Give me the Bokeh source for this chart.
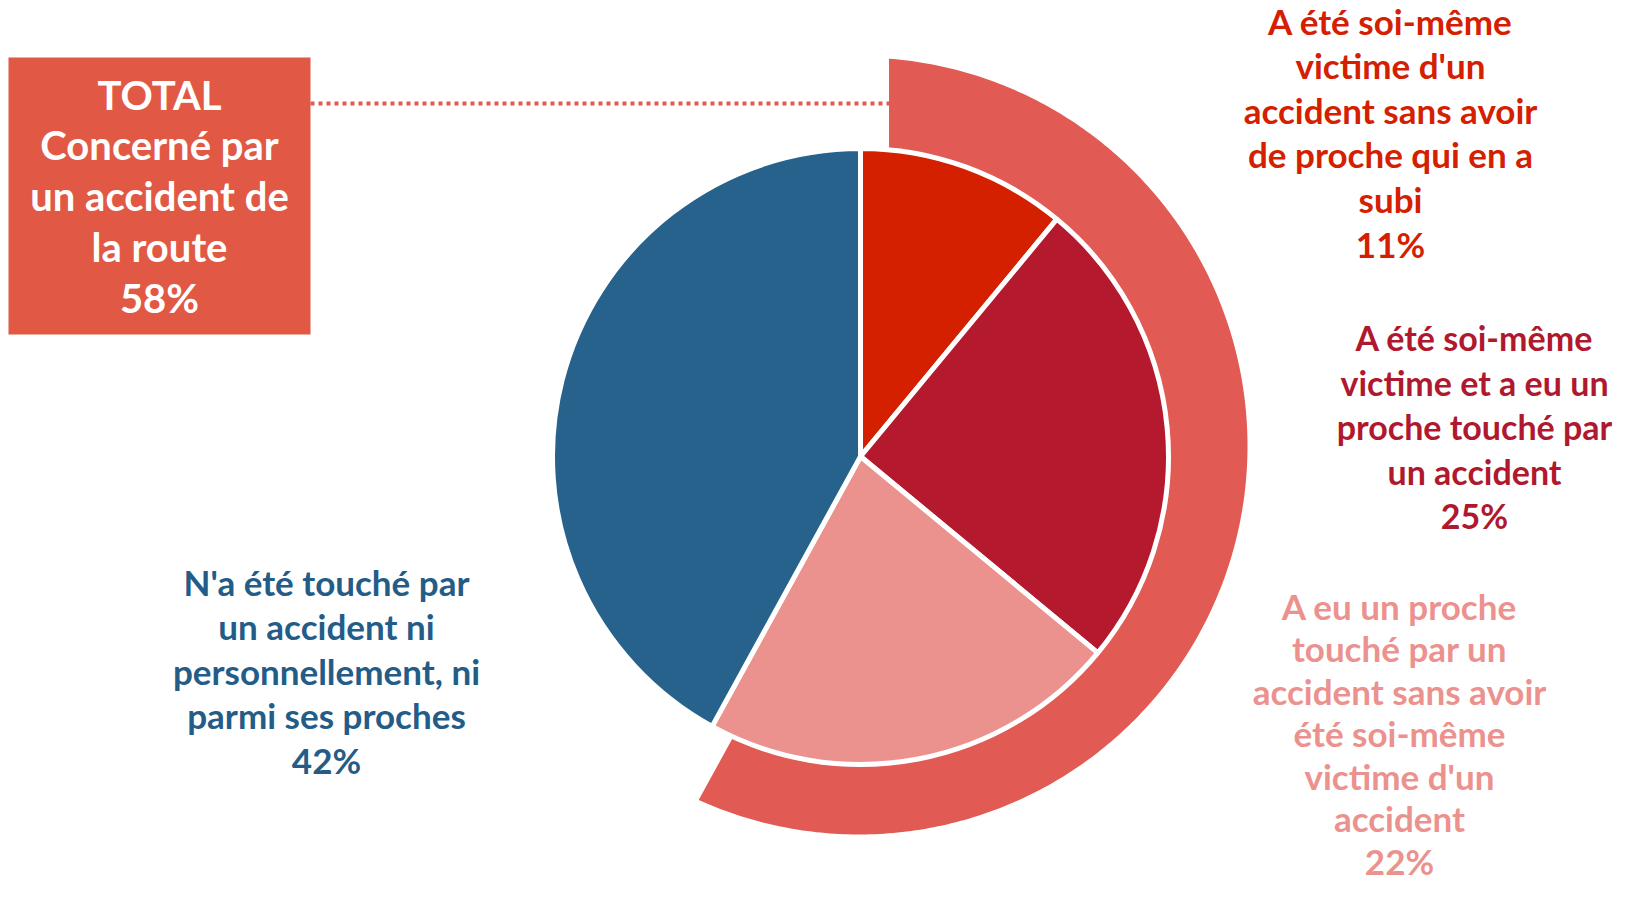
import numpy as np
from bokeh.plotting import figure
from bokeh.core.properties import value
from bokeh.embed import file_html
from bokeh.resources import INLINE

# ---------------- data ----------------
categories = [
    "A été soi-même victime d'un accident sans avoir de proche qui en a subi",
    "A été soi-même victime et a eu un proche touché par un accident",
    "A eu un proche touché par un accident sans avoir été soi-même victime d'un accident",
    "N'a été touché par un accident ni personnellement, ni parmi ses proches",
]
values = [11, 25, 22, 42]
label_lines = [
    ["A été soi-même", "victime d'un", "accident sans avoir", "de proche qui en a", "subi"],
    ["A été soi-même", "victime et a eu un", "proche touché par", "un accident"],
    ["A eu un proche", "touché par un", "accident sans avoir", "été soi-même", "victime d'un", "accident"],
    ["N'a été touché par", "un accident ni", "personnellement, ni", "parmi ses proches"],
]
total_lines = ["TOTAL", "Concerné par", "un accident de", "la route"]
total_value = 58

# ---------------- style ----------------
slice_colors = ["#D52000", "#B4192D", "#EB928E", "#26628B"]
label_colors = ["#D42000", "#B0182E", "#EB928E", "#245C88"]
ring_color = "#E15A53"
box_color = "#E15945"
FONT = value("Lato")

W, H = 1614, 882
PAGE_H = 898


def Y(py):
    return PAGE_H - py


p = figure(width=W, height=H, x_range=(0, W), y_range=(PAGE_H - H, PAGE_H),
           output_backend="svg", toolbar_location=None, min_border=0)
p.axis.visible = False
p.grid.visible = False
p.outline_line_color = None
p.background_fill_color = "white"

# ---------------- outer ring (total) ----------------
rcx, rcy = 858.5, 445.5
R_out, R_in, off = 388.5, 285.0, 30.0
t1 = total_value / 100 * 2 * np.pi
th_o = np.linspace(np.arcsin(off / R_out), t1 - np.arcsin(off / R_out), 300)
th_i = np.linspace(t1 - np.arcsin(off / R_in), np.arcsin(off / R_in), 300)
ring_x = np.concatenate([rcx + R_out * np.sin(th_o), rcx + R_in * np.sin(th_i)])
ring_y = np.concatenate([Y(rcy - R_out * np.cos(th_o)), Y(rcy - R_in * np.cos(th_i))])
p.patch(ring_x, ring_y, fill_color=ring_color, line_color=None)

# ---------------- pie ----------------
pcx, pcy, pr = 860, 456, 308
fr = np.array(values) / sum(values) * 2 * np.pi
cum = np.concatenate([[0], np.cumsum(fr)])
starts = np.pi / 2 - cum[1:]
ends = np.pi / 2 - cum[:-1]
p.wedge(x=[pcx] * 4, y=[Y(pcy)] * 4, radius=pr, start_angle=starts, end_angle=ends,
        fill_color=slice_colors, line_color="white", line_width=5)

# ---------------- total box + leader ----------------
bx0, bx1, by0, by1 = 8, 310, 57, 334
p.quad(left=bx0, right=bx1, top=Y(by0), bottom=Y(by1), fill_color=box_color, line_color=None)
p.line([bx1, rcx + off], [Y(103), Y(103)], line_color=ring_color, line_width=4,
       line_dash="4 4", line_cap="butt")

box_text = total_lines + [f"{total_value}%"]
bys = [94 + i * 50.8 for i in range(len(box_text))]
p.text(x=[159] * len(box_text), y=[Y(v) for v in bys], text=box_text, text_font=FONT,
       text_font_style="bold", text_font_size="40px", text_align="center",
       text_baseline="middle", text_color="white")

# ---------------- labels ----------------
label_pos = [(1390, 20, 44.6, "35px"), (1474, 337, 44.5, "34px"),
             (1399, 605, 42.5, "35px"), (326, 581, 44.6, "35px")]
for lines, v, col, (lx, ly0, dy, fs) in zip(label_lines, values, label_colors, label_pos):
    txt = lines + [f"{v}%"]
    ys = [Y(ly0 + i * dy) for i in range(len(txt))]
    p.text(x=[lx] * len(txt), y=ys, text=txt, text_font=FONT, text_font_style="bold",
           text_font_size=fs, text_align="center", text_baseline="middle",
           text_color=col)

open("out.html", "w").write(file_html(p, INLINE))
